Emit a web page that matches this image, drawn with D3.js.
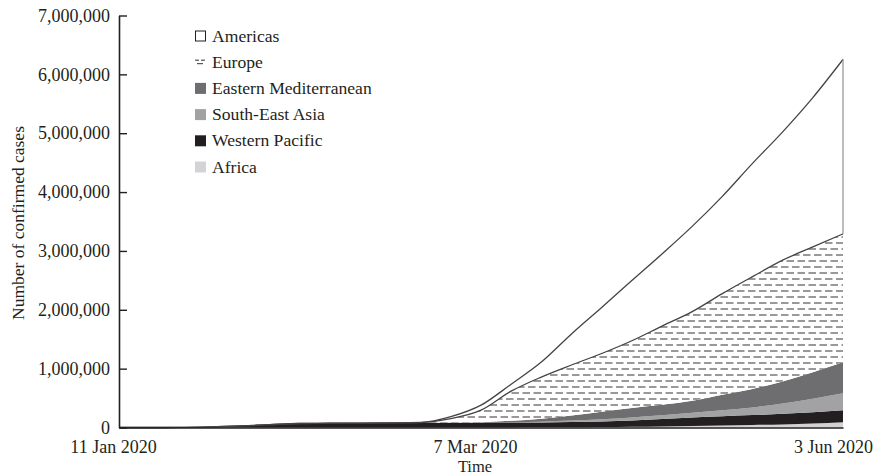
<!DOCTYPE html>
<html>
<head>
<meta charset="utf-8">
<script src="https://cdn.jsdelivr.net/npm/d3@7"></script>
<style>
body { margin: 0; background: #fff; }
text { font-family: "Liberation Serif", "Times New Roman", serif; fill: #231f20; }
.axis path, .axis line { stroke: #231f20; }
</style>
</head>
<body>
<div id="chart"></div>
<script>
var w = 873;
var h = 476;

// sample points, evenly spaced from 11 Jan to 3 Jun 2020 (thousands of cases)
var xTickLabels = ["11 Jan 2020", "7 Mar 2020", "3 Jun 2020"];
var xTickIndex = [0, 12, 24];
var yTicks = [0, 1000000, 2000000, 3000000, 4000000, 5000000, 6000000, 7000000];

var regions = ["Africa", "Western Pacific", "South-East Asia", "Eastern Mediterranean", "Europe", "Americas"];
var legendOrder = ["Americas", "Europe", "Eastern Mediterranean", "South-East Asia", "Western Pacific", "Africa"];

var africa   = [0,0,0,0,0,0,0,0,0,0,0,0,1,2,3,5,9,14,18,26,34,43,52,68,90];
var westPac  = [0,0.05,0.5,9,26,48,68,72,75,77,78,80,81,83,84,87,92,105,125,143,157,168,180,190,202];
var seAsia   = [0,0,0,0,0,0,0,0,0,0,0.5,1,2,5,12,25,40,52,64,80,100,130,175,230,290];
var eastMed  = [0,0,0,0,0,0,0,0,0,0.2,2,4,6,25,51,85,128,162,179,204,264,315,375,451,528];
var europe   = [0,0,0,0,0,0,0,0,0,0.5,3,65,204,502,707,860,988,1141,1337,1516,1720,1907,2061,2129,2180];
var americas = [0,0,0,0,0,0,0,0,0,0,2,34,85,119,255,528,783,1022,1226,1448,1652,1924,2180,2537,2963];

var colors = {
  "Africa": "#d3d3d5",
  "Western Pacific": "#231f20",
  "South-East Asia": "#a2a2a4",
  "Eastern Mediterranean": "#6e6e70",
  "Europe": "url(#dashes)",
  "Americas": "#ffffff"
};

var dataset = africa.map(function(d, i) {
  return {
    i: i,
    "Africa": africa[i] * 1000,
    "Western Pacific": westPac[i] * 1000,
    "South-East Asia": seAsia[i] * 1000,
    "Eastern Mediterranean": eastMed[i] * 1000,
    "Europe": europe[i] * 1000,
    "Americas": americas[i] * 1000
  };
});

var xScale = d3.scaleLinear().domain([0, africa.length - 1]).range([119, 843]);
var yScale = d3.scaleLinear().domain([0, 7000000]).range([427.5, 15.5]);

var svgChart = d3.select("#chart").append("svg")
  .attr("width", w)
  .attr("height", h);

// dashed fill for Europe
var defs = svgChart.append("defs");
var pat = defs.append("pattern")
  .attr("id", "dashes")
  .attr("patternUnits", "userSpaceOnUse")
  .attr("width", 11)
  .attr("height", 12);
pat.append("rect").attr("width", 11).attr("height", 12).attr("fill", "#fff");
pat.append("line").attr("x1", 0).attr("x2", 7.5).attr("y1", 3).attr("y2", 3)
  .attr("stroke", "#333").attr("stroke-width", 1);
pat.append("line").attr("x1", 5.5).attr("x2", 11).attr("y1", 9).attr("y2", 9)
  .attr("stroke", "#333").attr("stroke-width", 1);
pat.append("line").attr("x1", 0).attr("x2", 2).attr("y1", 9).attr("y2", 9)
  .attr("stroke", "#333").attr("stroke-width", 1);

var stack = d3.stack().keys(regions);
var series = stack(dataset);

var area = d3.area()
  .curve(d3.curveMonotoneX)
  .x(function(d) { return xScale(d.data.i); })
  .y0(function(d) { return yScale(d[0]); })
  .y1(function(d) { return yScale(d[1]); });

var topLine = d3.line()
  .curve(d3.curveMonotoneX)
  .x(function(d) { return xScale(d.data.i); })
  .y(function(d) { return yScale(d[1]); });

svgChart.selectAll("path.layer")
  .data(series)
  .enter()
  .append("path")
  .attr("class", "layer")
  .attr("d", area)
  .attr("fill", function(d) { return colors[d.key]; });

// outlines on top of Europe and Americas
series.filter(function(s) { return s.key === "Europe" || s.key === "Americas"; })
  .forEach(function(s) {
    svgChart.append("path")
      .attr("d", topLine(s))
      .attr("fill", "none")
      .attr("stroke", "#444")
      .attr("stroke-width", 1.3);
  });

// right edge of the Americas band
var last = series[5][series[5].length - 1];
svgChart.append("line")
  .attr("x1", xScale(last.data.i)).attr("x2", xScale(last.data.i))
  .attr("y1", yScale(last[0])).attr("y2", yScale(last[1]))
  .attr("stroke", "#999")
  .attr("stroke-width", 1.3);

// y axis, ticks pointing inward
svgChart.append("g")
  .attr("class", "axis")
  .attr("transform", "translate(119,0)")
  .call(d3.axisLeft(yScale)
    .tickValues(yTicks)
    .tickSizeInner(-8)
    .tickSizeOuter(0)
    .tickPadding(9)
    .tickFormat(d3.format(",")))
  .call(function(g) {
    g.select(".domain").attr("stroke-width", 1.6);
    g.selectAll("line").attr("stroke-width", 1.4);
    g.selectAll("text").style("font-size", "18px").attr("fill", "#231f20");
  });

// x axis, no tick marks
svgChart.append("g")
  .attr("class", "axis")
  .attr("transform", "translate(0,427.5)")
  .call(d3.axisBottom(xScale)
    .tickValues(xTickIndex)
    .tickSize(0)
    .tickPadding(13)
    .tickFormat(function(d, i) { return xTickLabels[i]; }))
  .call(function(g) {
    g.select(".domain").attr("stroke-width", 1.6);
    g.selectAll("text").style("font-size", "18px").attr("fill", "#231f20")
      .attr("dx", function(d, i) { return i === 2 ? -10 : -6; });
  });

// text label for the x axis
svgChart.append("text")
  .attr("x", 475)
  .attr("y", 472)
  .style("text-anchor", "middle")
  .style("font-size", "16.5px")
  .text("Time");

// text label for the y axis
svgChart.append("text")
  .attr("transform", "rotate(-90)")
  .attr("x", -223)
  .attr("y", 24)
  .style("text-anchor", "middle")
  .style("font-size", "17.5px")
  .text("Number of confirmed cases");

// legend
var legend = svgChart.selectAll("g.legend")
  .data(legendOrder)
  .enter()
  .append("g")
  .attr("class", "legend")
  .attr("transform", function(d, i) { return "translate(195," + (36 + i * 26.2) + ")"; });

legend.each(function(d) {
  var g = d3.select(this);
  if (d === "Europe") {
    g.append("line").attr("x1", 0).attr("x2", 4).attr("y1", -2).attr("y2", -2).attr("stroke", "#333");
    g.append("line").attr("x1", 6).attr("x2", 10).attr("y1", -2).attr("y2", -2).attr("stroke", "#333");
    g.append("line").attr("x1", 2).attr("x2", 8).attr("y1", 1.5).attr("y2", 1.5).attr("stroke", "#333");
  } else {
    g.append("rect")
      .attr("x", d === "Americas" ? 0.5 : 0)
      .attr("y", d === "Americas" ? -5 : -5.5)
      .attr("width", d === "Americas" ? 10 : 11)
      .attr("height", d === "Americas" ? 10 : 11)
      .attr("fill", colors[d])
      .attr("stroke", d === "Americas" ? "#231f20" : "none");
  }
  g.append("text")
    .attr("x", 17)
    .attr("y", 5.5)
    .style("font-size", "17.6px")
    .text(d);
});
</script>
</body>
</html>
